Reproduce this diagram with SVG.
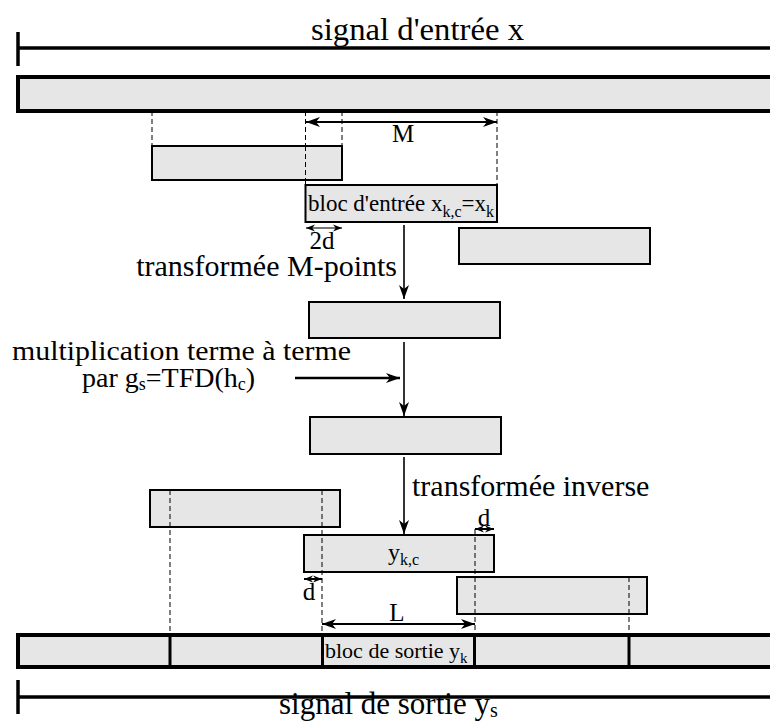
<svg xmlns="http://www.w3.org/2000/svg" width="770" height="725" viewBox="0 0 770 725">
<style>
text{font-family:"Liberation Serif","Times New Roman",serif;fill:#000}
.blk{fill:#e6e6e6;stroke:#000;stroke-width:2}
.bar{fill:#e6e6e6;stroke:#000;stroke-width:4}
.dash{stroke:#000;stroke-width:1;stroke-dasharray:5,3;fill:none}
.flow{stroke:#000;stroke-width:1.6;fill:none}
.dim{stroke:#000;stroke-width:2;fill:none}
.rule{stroke:#000;stroke-width:3.5;fill:none}
.lbl{font-size:30px}
.sm{font-size:25px}
</style>
<defs>
<marker id="ah" viewBox="0 0 14 10" refX="14" refY="5" markerWidth="14" markerHeight="10" markerUnits="userSpaceOnUse" orient="auto-start-reverse">
<path d="M0,0 L14,5 L0,10 L4,5 z" fill="#000"/>
</marker>
<marker id="ahs" viewBox="0 0 10 8" refX="10" refY="4" markerWidth="9" markerHeight="8" markerUnits="userSpaceOnUse" orient="auto-start-reverse">
<path d="M0,0 L10,4 L0,8 L3,4 z" fill="#000"/>
</marker>
</defs>

<g id="input-signal">
<line class="rule" x1="18" y1="32" x2="18" y2="66"/>
<line class="rule" x1="18" y1="48" x2="770" y2="48"/>
<text x="311" y="40" style="font-size:32px" textLength="213" lengthAdjust="spacingAndGlyphs">signal d'entrée x</text>
</g>
<g id="input-bar"><rect class="bar" x="18" y="77" width="760" height="34"/></g>

<g id="connectors">
<line class="dash" x1="152" y1="111" x2="152" y2="146"/>
<line class="dash" x1="305.5" y1="111" x2="305.5" y2="185"/>
<line class="dash" x1="342" y1="111" x2="342" y2="146"/>
<line class="dash" x1="497" y1="111" x2="497" y2="185"/>
<line class="dim" x1="306" y1="122" x2="497" y2="122" marker-start="url(#ah)" marker-end="url(#ah)"/>
<line x1="306" y1="228" x2="342" y2="228" stroke="#777" stroke-width="2" marker-start="url(#ahs)" marker-end="url(#ahs)"/>
<line class="flow" x1="404" y1="225" x2="404" y2="299" marker-end="url(#ah)"/>
<line class="flow" x1="404" y1="342" x2="404" y2="416" marker-end="url(#ah)"/>
<line x1="295" y1="378" x2="400" y2="378" stroke="#000" stroke-width="2.5" marker-end="url(#ah)"/>
<line class="flow" x1="404" y1="457" x2="404" y2="534" marker-end="url(#ah)"/>
<line class="dim" x1="475" y1="529" x2="494" y2="529" marker-start="url(#ahs)" marker-end="url(#ahs)"/>
<line class="dim" x1="304" y1="579" x2="322" y2="579" marker-start="url(#ahs)" marker-end="url(#ahs)"/>
<line class="dim" x1="322" y1="624" x2="475" y2="624" marker-start="url(#ah)" marker-end="url(#ah)"/>
</g>

<g id="block-a"><rect class="blk" x="152" y="146" width="190" height="34"/></g>
<g id="block-in">
<rect class="blk" x="305.5" y="185" width="191.5" height="37"/>
<text x="308" y="211" style="font-size:23px">bloc d'entrée x<tspan dy="6" style="font-size:16px">k,c</tspan><tspan dy="-6">=x</tspan><tspan dy="6" style="font-size:16px">k</tspan></text>
</g>
<g id="block-c"><rect class="blk" x="459" y="228" width="191" height="36"/></g>
<g id="block-d"><rect class="blk" x="309" y="302" width="191" height="36"/></g>
<g id="block-e"><rect class="blk" x="310" y="417" width="191" height="37"/></g>
<g id="block-f"><rect class="blk" x="150" y="490" width="190" height="37"/></g>
<g id="block-ykc">
<rect class="blk" x="304" y="535" width="190" height="37"/>
<text x="388" y="560" style="font-size:24px">y<tspan dy="5" style="font-size:16px">k,c</tspan></text>
</g>
<g id="block-g"><rect class="blk" x="457" y="577" width="190" height="37"/></g>

<g id="overlay-dashes">
<line class="dash" x1="305.5" y1="146" x2="305.5" y2="185"/>
<line class="dash" x1="170" y1="490" x2="170" y2="635"/>
<line class="dash" x1="322" y1="490" x2="322" y2="635"/>
<line class="dash" x1="475" y1="529" x2="475" y2="635"/>
<line class="dash" x1="629" y1="577" x2="629" y2="635"/>
</g>

<g id="output-bar">
<rect class="bar" x="18" y="635" width="760" height="32"/>
<line x1="170" y1="635" x2="170" y2="667" stroke="#000" stroke-width="3"/>
<line x1="322.5" y1="635" x2="322.5" y2="667" stroke="#000" stroke-width="3"/>
<line x1="474.5" y1="635" x2="474.5" y2="667" stroke="#000" stroke-width="3"/>
<line x1="629" y1="635" x2="629" y2="667" stroke="#000" stroke-width="3"/>
<text x="325" y="658" style="font-size:22px">bloc de sortie y<tspan dy="5" style="font-size:15px">k</tspan></text>
</g>

<g id="output-signal">
<line class="rule" x1="18" y1="680" x2="18" y2="714"/>
<line class="rule" x1="18" y1="697" x2="770" y2="697"/>
<text x="279" y="714" style="font-size:31px">signal de sortie y<tspan dy="3" style="font-size:20px">s</tspan></text>
</g>

<g id="labels">
<text class="sm" x="403" y="142" text-anchor="middle">M</text>
<text class="sm" x="322" y="249" text-anchor="middle">2d</text>
<text class="lbl" x="397" y="276" text-anchor="end">transformée M-points</text>
<text x="12" y="360" style="font-size:28px" textLength="339" lengthAdjust="spacingAndGlyphs">multiplication terme à terme</text>
<text x="82" y="387" style="font-size:28px">par g<tspan dy="3" style="font-size:18px">s</tspan><tspan dy="-3">=TFD(h</tspan><tspan dy="3" style="font-size:18px">c</tspan><tspan dy="-3">)</tspan></text>
<text class="lbl" x="412" y="496">transformée inverse</text>
<text class="sm" x="484" y="526" text-anchor="middle">d</text>
<text class="sm" x="309" y="600" text-anchor="middle">d</text>
<text class="sm" x="397" y="621" text-anchor="middle">L</text>
</g>
</svg>
